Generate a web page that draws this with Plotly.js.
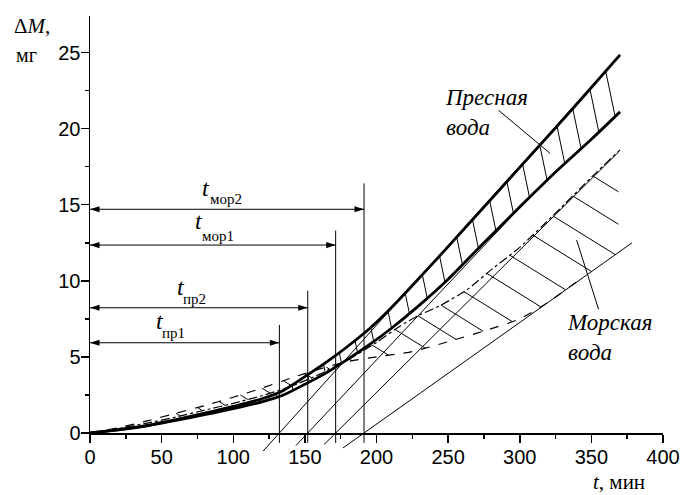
<!DOCTYPE html>
<html>
<head>
<meta charset="utf-8">
<script src="https://cdn.plot.ly/plotly-3.0.1.min.js"></script>
<style>html,body{margin:0;padding:0;background:#fff;}#chart{width:683px;height:495px;}</style>
</head>
<body>
<div id="chart"></div>
<script>
// ---------------- data ----------------
// Fresh water band (thick curves)
const freshT      = [0, 20, 40, 60, 80, 100, 120, 135, 150, 165, 180, 195, 210, 230, 250, 275, 300, 325, 350, 370];
const freshUpperM = [0, 0.22, 0.5, 0.88, 1.3, 1.75, 2.25, 2.8, 3.7, 4.65, 5.7, 6.85, 8.2, 10.2, 12.25, 14.85, 17.45, 20.05, 22.7, 24.85];
const freshLowerM = [0, 0.2, 0.47, 0.83, 1.2, 1.6, 2.05, 2.5, 3.2, 3.95, 4.85, 5.8, 6.85, 8.4, 10.1, 12.5, 14.85, 17.15, 19.3, 21.1];
// Sea water band (dashed curves)
const seaUpperT   = [0, 20, 40, 60, 80, 100, 120, 140, 160, 180, 200, 216, 230, 244, 263, 281, 300, 325, 350, 370];
const seaUpperM   = [0, 0.3, 0.65, 1.05, 1.5, 1.95, 2.45, 3.05, 3.85, 4.8, 5.95, 7.0, 7.75, 8.35, 9.4, 10.8, 12.2, 14.45, 16.8, 18.6];
const seaLowerT   = [0, 20, 40, 60, 80, 100, 120, 140, 160, 180, 200, 225, 250, 275, 300, 320, 342];
const seaLowerM   = [0, 0.35, 0.8, 1.3, 1.8, 2.35, 2.95, 3.6, 4.2, 4.7, 5.0, 5.35, 6.0, 6.7, 7.5, 8.6, 10.1];
// Incubation times: пр1, пр2, мор1, мор2
const incLabels   = ['пр1', 'пр2', 'мор1', 'мор2'];
const incT        = [132.2, 152, 171.5, 191.3];
const incArrowM   = [5.93, 8.23, 12.35, 14.7];
const incTopM     = [7.1, 9.35, 13.3, 16.4];
const incBottomM  = -0.65;
// Tangent lines (through incT on the t axis)
const tanSlope    = [0.1045, 0.1, 0.0935, 0.0668];
const tanStartT   = [120.8, 143.8, 163.4, 176.6];
const tanEndT     = [369, 315, 369, 378.4];
// Hatching positions (t where each hatch stroke starts)
const freshHatchT = [119, 130, 141, 152, 163, 174, 185, 196, 208, 220, 232, 244, 256, 267, 279, 291, 302, 314, 326, 337, 349, 360];
const seaHatchT   = [60, 75, 90, 105, 120, 135, 150, 165, 181, 197, 213, 229, 245, 261, 277, 293, 309, 323, 337, 351];
// Axis ticks
const xTicks = [0, 50, 100, 150, 200, 250, 300, 350, 400];
const yTicks = [0, 5, 10, 15, 20, 25];

// ---------------- geometry ----------------
const W = 683, H = 495, mL = 90, mR = 20, mT = 16, mB = 35;
const plotW = W - mL - mR, plotH = H - mT - mB;
const axisY = 433;                       // pixel row of the t axis
const yTop = 27.4;
const mainH = axisY - mT;
const ky = mainH / yTop, kx = plotW / 400;
const yDom0 = (H - mB - axisY) / plotH;
const y2Min = -(H - mB - axisY) / ky;
const px2x = p => (p - mL) / plotW, py2y = p => (H - mB - p) / plotH;

function interp(xs, ys, x) {
  if (x <= xs[0]) return ys[0];
  for (let i = 1; i < xs.length; i++) {
    if (x <= xs[i]) { const f = (x - xs[i-1]) / (xs[i] - xs[i-1]); return ys[i-1] + f * (ys[i] - ys[i-1]); }
  }
  return null;
}
const tanLine = (i, t) => tanSlope[i] * (t - incT[i]);
const seaLowerExt = t => t <= seaLowerT[seaLowerT.length-1] ? interp(seaLowerT, seaLowerM, t) : tanLine(3, t);
const fUp = t => interp(freshT, freshUpperM, t), fLo = t => interp(freshT, freshLowerM, t);
const sUp = t => interp(seaUpperT, seaUpperM, t);
const seaTop = t => Math.max(sUp(t), seaLowerExt(t));
const seaBot = t => Math.min(sUp(t), seaLowerExt(t));

function hatch(ts, topF, botF, dxp, dyp, tMax) {
  const xs = [], ys = [];
  const n = Math.hypot(dxp, dyp), ux = dxp / n, uy = dyp / n;
  ts.forEach(t0 => {
    const y0 = topF(t0);
    let t = t0, y = y0;
    for (let s = 0; s < 200; s += 0.25) {
      const tt = t0 + ux * s / kx, yy = y0 - uy * s / ky;
      if (tt > tMax) break;
      t = tt; y = yy;
      if (s > 0.5 && yy <= botF(tt)) break;
    }
    xs.push(t0, t, null); ys.push(y0, y, null);
  });
  return {xs, ys};
}
const fh = hatch(freshHatchT, fUp, fLo, 1, 4.8, 370);
const sh = hatch(seaHatchT, seaTop, seaBot, 1, 0.62, 369);

const tanX = [], tanY = [];
incT.forEach((t0, i) => { tanX.push(tanStartT[i], tanEndT[i], null); tanY.push(tanLine(i, tanStartT[i]), tanLine(i, tanEndT[i]), null); });
const vX = [], vY = [];
incT.forEach((t0, i) => { vX.push(t0, t0, null); vY.push(incBottomM, incTopM[i], null); });
const hX = [], hY = [];
incT.forEach((t0, i) => { hX.push(0, t0, null); hY.push(incArrowM[i], incArrowM[i], null); });
const headX = incT.concat(incT.map(() => 0));
const headY = incArrowM.concat(incArrowM);
const headA = incT.map(() => 90).concat(incT.map(() => -90));

const thin = {color: 'black', width: 1};
const traces = [
  {x: fh.xs, y: fh.ys, xaxis: 'x', yaxis: 'y', mode: 'lines', line: thin, hoverinfo: 'skip'},
  {x: sh.xs, y: sh.ys, xaxis: 'x2', yaxis: 'y2', mode: 'lines', line: thin, hoverinfo: 'skip'},
  {x: tanX, y: tanY, xaxis: 'x2', yaxis: 'y2', mode: 'lines', line: thin, hoverinfo: 'skip'},
  {x: vX, y: vY, xaxis: 'x2', yaxis: 'y2', mode: 'lines', line: thin, hoverinfo: 'skip'},
  {x: hX, y: hY, xaxis: 'x', yaxis: 'y', mode: 'lines', line: thin, hoverinfo: 'skip'},
  {x: headX, y: headY, xaxis: 'x', yaxis: 'y', mode: 'markers', cliponaxis: false, hoverinfo: 'skip',
   marker: {symbol: 'arrow', size: 10, angle: headA, color: 'black', line: {width: 0}}},
  {x: seaUpperT, y: seaUpperM, xaxis: 'x2', yaxis: 'y2', mode: 'lines', line: {color: 'black', width: 1.2, dash: 'dashdot', shape: 'spline', smoothing: 0.6}},
  {x: seaLowerT, y: seaLowerM, xaxis: 'x2', yaxis: 'y2', mode: 'lines', line: {color: 'black', width: 1.2, dash: 'dash', shape: 'spline', smoothing: 0.6}},
  {x: freshT, y: freshLowerM, xaxis: 'x2', yaxis: 'y2', mode: 'lines', line: {color: 'black', width: 2.8, shape: 'spline', smoothing: 0.8}},
  {x: freshT, y: freshUpperM, xaxis: 'x2', yaxis: 'y2', mode: 'lines', line: {color: 'black', width: 2.8, shape: 'spline', smoothing: 0.8}}
];

const serif = 'Liberation Serif, Times New Roman, serif';
const ann = [];
const tLabelPos = [[48.9, 7.36, 58.2, 6.54], [63.5, 9.61, 72.6, 8.8], [76.4, 13.9, 89.6, 12.94], [81.1, 16.1, 94.6, 15.37]];
incLabels.forEach((lab, i) => {
  const p = tLabelPos[i];
  ann.push({x: p[0], y: p[1], xref: 'x', yref: 'y', xanchor: 'center', yanchor: 'middle', text: '<i>t</i>', showarrow: false, font: {family: serif, size: 24, color: 'black'}});
  ann.push({x: p[2], y: p[3], xref: 'x', yref: 'y', xanchor: 'center', yanchor: 'middle', text: lab, showarrow: false, font: {family: serif, size: 15, color: 'black'}});
});
// band labels with pointers
ann.push({x: 321.1, y: 18.38, ax: 284.1, ay: 21.29, xref: 'x', yref: 'y', axref: 'x', ayref: 'y', text: '', showarrow: true, arrowhead: 0, arrowwidth: 1, arrowcolor: 'black'});
ann.push({x: 339.7, y: 12.68, ax: 355.4, ay: 8.02, xref: 'x', yref: 'y', axref: 'x', ayref: 'y', text: '', showarrow: true, arrowhead: 0, arrowwidth: 1, arrowcolor: 'black'});
ann.push({x: 246.5, y: 21.05, xref: 'x', yref: 'y', xanchor: 'left', yanchor: 'middle', align: 'left', text: '<i>Пресная</i><br><i>вода</i>', showarrow: false, font: {family: serif, size: 23, color: 'black'}});
ann.push({x: 331.5, y: 6.3, xref: 'x', yref: 'y', xanchor: 'left', yanchor: 'middle', align: 'left', text: '<i>Морская</i><br><i>вода</i>', showarrow: false, font: {family: serif, size: 23, color: 'black'}});
// axis titles
ann.push({x: px2x(32), y: py2y(26), xref: 'paper', yref: 'paper', xanchor: 'center', yanchor: 'middle', text: 'Δ<i>M</i>,', showarrow: false, font: {family: serif, size: 21, color: 'black'}});
ann.push({x: px2x(26), y: py2y(55), xref: 'paper', yref: 'paper', xanchor: 'center', yanchor: 'middle', text: 'мг', showarrow: false, font: {family: serif, size: 20, color: 'black'}});
ann.push({x: px2x(619), y: py2y(482), xref: 'paper', yref: 'paper', xanchor: 'center', yanchor: 'middle', text: '<i>t</i>, мин', showarrow: false, font: {family: serif, size: 21, color: 'black'}});

const axisCommon = {showline: true, linewidth: 1.5, linecolor: 'black', ticks: 'outside', ticklen: 8, tickwidth: 1.5, tickcolor: 'black',
  showgrid: false, zeroline: false, tickfont: {family: 'Liberation Sans, Arial, sans-serif', size: 20, color: 'black'}, fixedrange: true};
const layout = {
  width: W, height: H, margin: {l: mL, r: mR, t: mT, b: mB},
  paper_bgcolor: 'white', plot_bgcolor: 'rgba(0,0,0,0)', showlegend: false,
  xaxis: Object.assign({}, axisCommon, {domain: [0, 1], range: [0, 400], anchor: 'y', tickvals: xTicks, ticklabelstandoff: -3,
    minor: {dtick: 25, tick0: 0, ticks: 'outside', ticklen: 4, tickwidth: 1.5, tickcolor: 'black', showgrid: false}}),
  yaxis: Object.assign({}, axisCommon, {domain: [yDom0, 1], range: [0, yTop], anchor: 'x', tickvals: yTicks, ticklabelstandoff: -4,
    minor: {dtick: 2.5, tick0: 0, ticks: 'outside', ticklen: 4, tickwidth: 1.5, tickcolor: 'black', showgrid: false}}),
  xaxis2: {domain: [0, 1], range: [0, 400], anchor: 'y2', visible: false, fixedrange: true},
  yaxis2: {domain: [0, 1], range: [y2Min, yTop], anchor: 'x2', visible: false, fixedrange: true},
  annotations: ann
};
Plotly.newPlot('chart', traces, layout, {staticPlot: true});
</script>
</body>
</html>
